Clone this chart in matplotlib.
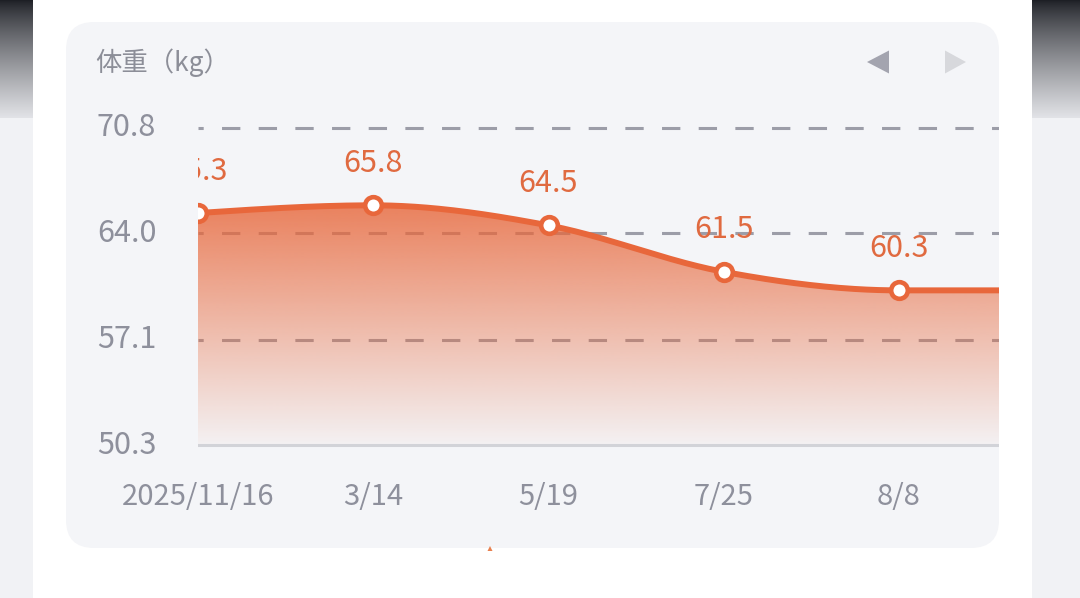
import numpy as np
import matplotlib
matplotlib.use("Agg")
import matplotlib.pyplot as plt
from matplotlib.patches import FancyBboxPatch, Polygon, Rectangle
from matplotlib import transforms as mtrans

# ---------------- data ----------------
dates = ["2025/11/16", "3/14", "5/19", "7/25", "8/8"]
weights = [65.3, 65.8, 64.5, 61.5, 60.3]
y_ticks = [50.3, 57.1, 64.0, 70.8]
title = "体重（kg）"

# ---------------- style ----------------
W, H = 1080, 598
plt.rcParams['font.family'] = ['Noto Sans CJK SC', 'DejaVu Sans']
LINE = '#E8673B'
LABEL = '#E06A40'
TICK = '#8E909C'

fig = plt.figure(figsize=(W / 100, H / 100), dpi=100, facecolor='white')
bg = fig.add_axes([0, 0, 1, 1])
bg.axis('off')

# side strips (dark gradient at top)
g = np.linspace(0, 1, 256)[:, None]
top_c = np.array([28, 30, 36]) / 255
bot_c = np.array([226, 227, 231]) / 255
strip = (top_c + (bot_c - top_c) * g ** 0.8)[:, None, :]
for x0, x1 in [(0, 33), (1032, 1080)]:
    bg.imshow(strip, extent=[x0, x1, 118, 0], aspect='auto', zorder=0, interpolation='bilinear')
    bg.add_patch(Rectangle((x0, 118), x1 - x0, H - 118, fc=(241 / 255, 242 / 255, 245 / 255), ec='none', zorder=0))

# white card
bg.add_patch(FancyBboxPatch((33, -60), 999, 672, boxstyle='round,pad=0,rounding_size=32',
                            fc='white', ec='none', zorder=1))
# grey panel
bg.add_patch(FancyBboxPatch((66, 22), 933, 526, boxstyle='round,pad=0,rounding_size=28',
                            fc='#F4F5F8', ec='none', zorder=2))
# nav arrows
bg.add_patch(Polygon([(867, 62), (889, 50.5), (889, 73.5)], closed=True, fc='#A3A4AF', ec='none', zorder=3))
bg.add_patch(Polygon([(945, 50.5), (945, 73.5), (966, 62)], closed=True, fc='#D7D8DC', ec='none', zorder=3))
# tiny pointer mark
bg.add_patch(Polygon([(487.5, 551), (492.5, 551), (490, 546)], closed=True, fc='#E8804F', ec='none', zorder=3))

bg.set_xlim(0, W)
bg.set_ylim(H, 0)

# title
bg.text(95, 63, title, ha='left', va='center', fontsize=19, color='#8C8E98', zorder=4)

# ---------------- chart axes ----------------
ax = fig.add_axes([198 / W, 1 - 452 / H, (999 - 198) / W, (452 - 100) / H])
ax.patch.set_alpha(0)
ax.axis('off')

ppu = (445 - 128) / (y_ticks[-1] - y_ticks[0])
ylo = y_ticks[0] - 7 / ppu
yhi = y_ticks[-1] + 28 / ppu
spacing = (899 - 198) / (len(dates) - 1)
xmax = (999 - 198) / spacing

n = len(weights)
xs = np.arange(n, dtype=float)
# continue flat to the right edge
px = np.append(xs, xmax)
py = np.append(np.array(weights, dtype=float), weights[-1])


def monotone_x(x, y, steps=60):
    m = len(x)
    h = np.diff(x)
    s = np.diff(y) / h
    t = np.zeros(m)
    for i in range(1, m - 1):
        s0, s1 = s[i - 1], s[i]
        p = (s0 * h[i] + s1 * h[i - 1]) / (h[i - 1] + h[i])
        t[i] = (np.sign(s0) + np.sign(s1)) * min(abs(s0), abs(s1), 0.5 * abs(p))
    t[0] = (3 * s[0] - t[1]) / 2
    t[-1] = (3 * s[-1] - t[-2]) / 2
    XX, YY = [], []
    for i in range(m - 1):
        u = np.linspace(0, 1, steps)
        x0, x1 = x[i], x[i + 1]
        dx = x1 - x0
        P0, P3 = y[i], y[i + 1]
        P1 = P0 + t[i] * dx / 3
        P2 = P3 - t[i + 1] * dx / 3
        X0, X1, X2, X3 = x0, x0 + dx / 3, x1 - dx / 3, x1
        b = [(1 - u) ** 3, 3 * (1 - u) ** 2 * u, 3 * (1 - u) * u ** 2, u ** 3]
        XX.append(b[0] * X0 + b[1] * X1 + b[2] * X2 + b[3] * X3)
        YY.append(b[0] * P0 + b[1] * P1 + b[2] * P2 + b[3] * P3)
    return np.concatenate(XX), np.concatenate(YY)


cx, cy = monotone_x(px, py)

# grid lines (below the fill)
for v in y_ticks[1:]:
    ax.axhline(v, color='#9C9DA8', lw=2.2, ls=(4.3, (6, 6)), zorder=1)
ax.axhline(y_ticks[0], color='#D2D3D8', lw=2.2, zorder=3)

# gradient fill
verts = np.vstack([np.column_stack([cx, cy]), [[cx[-1], y_ticks[0]], [cx[0], y_ticks[0]]]])
clip = Polygon(verts, closed=True, fc='none', ec='none')
ax.add_patch(clip)
gtop = cy.max()
alpha = np.linspace(0.82, 0.03, 256)
rgba = np.zeros((256, 1, 4))
rgba[:, 0, 0] = 232 / 255
rgba[:, 0, 1] = 104 / 255
rgba[:, 0, 2] = 60 / 255
rgba[:, 0, 3] = alpha
im = ax.imshow(rgba, extent=[0, xmax, y_ticks[0], gtop], aspect='auto', origin='upper',
               zorder=2, interpolation='bilinear')
im.set_clip_path(clip)

# line and markers
ax.plot(cx, cy, color=LINE, lw=4.3, zorder=4, solid_capstyle='round')
ax.plot(xs, weights, 'o', ms=12, mfc='white', mec=LINE, mew=3.3, zorder=5)

ax.set_xlim(0, xmax)
ax.set_ylim(ylo, yhi)

# value labels
off = mtrans.offset_copy(ax.transData, fig=fig, x=0, y=42, units='dots')
for i, w in enumerate(weights):
    ax.text(xs[i], w, f"{w:.1f}", transform=off, ha='center', va='center',
            fontsize=22, color=LABEL, clip_on=True, zorder=6)

# y tick labels
ytr = mtrans.blended_transform_factory(bg.transData, ax.transData)
for v in y_ticks:
    ax.text(97, v, f"{v:.1f}", transform=ytr, ha='left', va='center',
            fontsize=22, color=TICK, clip_on=False)

# x tick labels
xtr = mtrans.blended_transform_factory(ax.transData, bg.transData)
for i, d in enumerate(dates):
    ax.text(xs[i], 497, d, transform=xtr, ha='center', va='center',
            fontsize=21, color=TICK, clip_on=False)

fig.savefig('out.png', dpi=100, facecolor='white')
